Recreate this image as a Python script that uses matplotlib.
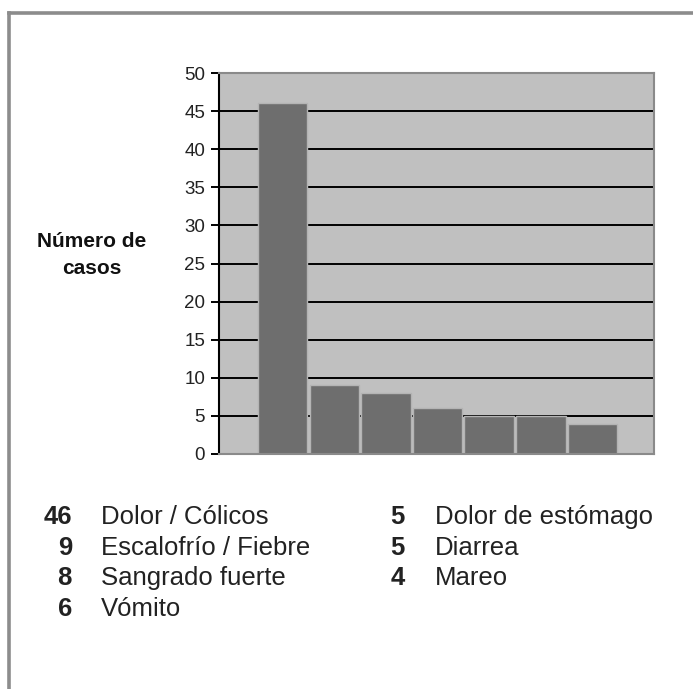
import matplotlib
matplotlib.use("Agg")
import matplotlib.pyplot as plt
from matplotlib.lines import Line2D
import numpy as np

plt.rcParams['font.family'] = ['Liberation Sans', 'DejaVu Sans']

# data
casos = [46, 9, 8, 6, 5, 5, 4]
sintomas = ['Dolor / Cólicos', 'Escalofrío / Fiebre', 'Sangrado fuerte', 'Vómito',
            'Dolor de estómago', 'Diarrea', 'Mareo']
yticks = [0, 5, 10, 15, 20, 25, 30, 35, 40, 45, 50]

W, H = 693, 689
fig = plt.figure(figsize=(W / 100, H / 100), dpi=100)

# outer frame (top and left only)
fig.add_artist(Line2D([9 / W, 1], [1 - 13 / H] * 2, color='#8c8c8c', lw=2.6))
fig.add_artist(Line2D([9 / W] * 2, [0, 1 - 13 / H], color='#8c8c8c', lw=2.6))

ax = fig.add_axes([219 / W, 1 - 454 / H, (654 - 219) / W, (454 - 73) / H])
ax.set_facecolor('#c0c0c0')
x = np.arange(len(casos))
for y in yticks[1:-1]:
    ax.axhline(y, color='black', lw=1.4, zorder=1)
ax.bar(x, casos, width=0.96, color='#6e6e6e', edgecolor='#b4b4b4', lw=1, zorder=2)

ax.set_xlim(-1.233, 7.19)
ax.set_ylim(0, 50)
ax.set_yticks(yticks)
ax.set_xticks([])
ax.tick_params(axis='y', direction='out', length=6, width=1.4, color='black',
               labelsize=13.5, pad=4, labelcolor='#222222')
for s in ['top', 'right', 'bottom']:
    ax.spines[s].set_color('#8a8a8a')
    ax.spines[s].set_linewidth(1.5)
ax.spines['left'].set_color('black')
ax.spines['left'].set_linewidth(1.5)

fig.text(92 / W, 1 - 255 / H, 'Número de\ncasos', ha='center', va='center',
         fontsize=15, fontweight='bold', linespacing=1.55, color='#111111')

# list of values below the chart
rows = [517, 548, 578, 609]
for i, (n, s) in enumerate(zip(casos, sintomas)):
    if i < 4:
        xn, xs, yy = 72, 101, rows[i]
    else:
        xn, xs, yy = 405, 435, rows[i - 4]
    fig.text(xn / W, 1 - yy / H, str(n), ha='right', va='center',
             fontsize=18.5, fontweight='bold', color='#222222')
    fig.text(xs / W, 1 - yy / H, s, ha='left', va='center',
             fontsize=18.5, color='#222222')

fig.savefig('out.png', dpi=100)
